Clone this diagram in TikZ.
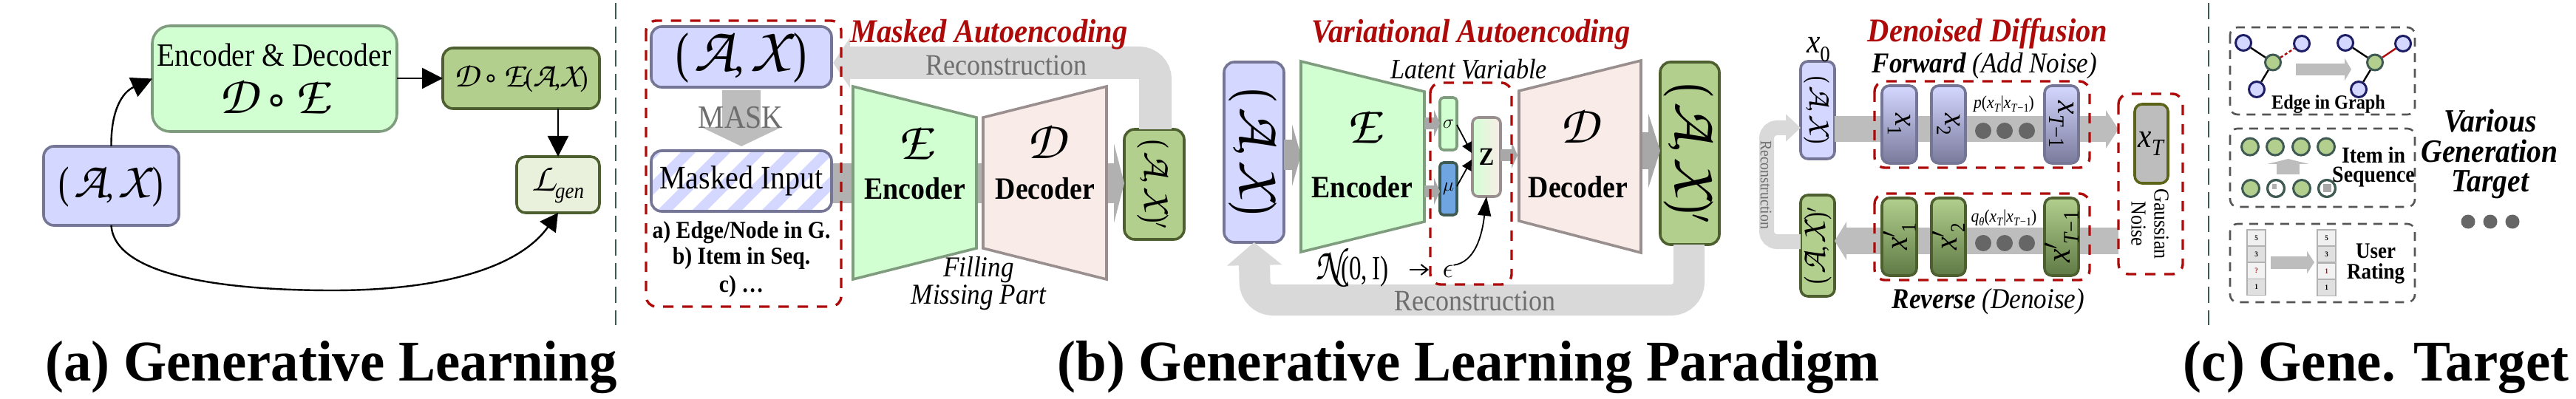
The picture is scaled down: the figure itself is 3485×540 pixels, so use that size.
\RequirePackage{fix-cm}
\documentclass[tikz,border=0pt]{standalone}
\usepackage{fontspec}
\usepackage{graphicx}
\setmainfont[FakeStretch=0.9]{Liberation Serif}
\newfontfamily\capfam[FakeStretch=0.96]{Liberation Serif}
\newfontfamily\djfam{DejaVu Sans}
\usetikzlibrary{arrows.meta,shapes.geometric,calc}
\definecolor{blueF}{HTML}{D4D7FF}
\definecolor{blueB}{HTML}{757595}
\definecolor{blueD}{HTML}{7A7A9C}
\definecolor{greenF}{HTML}{D2FFD2}
\definecolor{greenB}{HTML}{7F9C7F}
\definecolor{oliveF}{HTML}{B3CF8E}
\definecolor{oliveB}{HTML}{4D5F2F}
\definecolor{oliveD}{HTML}{5F7A45}
\definecolor{paleF}{HTML}{E9F1DC}
\definecolor{pinkF}{HTML}{F9ECE8}
\definecolor{pinkB}{HTML}{9A8F8F}
\definecolor{redD}{HTML}{AE0A0A}
\definecolor{bandL}{HTML}{D9D9D9}
\definecolor{bandM}{HTML}{BDBDBD}
\definecolor{bandD}{HTML}{A8A8A8}
\definecolor{lbl}{HTML}{6E6E6E}
\definecolor{dotc}{HTML}{666666}
\definecolor{sepc}{HTML}{3F5A52}
\definecolor{dashg}{HTML}{555555}
\definecolor{muF}{HTML}{6FA5E0}
\newcommand\fs[1]{\fontsize{#1}{#1}\selectfont}
\newcommand\calf[1]{\scalebox{1.35}{\usefont{OT1}{pzc}{m}{it}#1}}
\newcommand\calb[1]{\scalebox{1.45}{\usefont{OT1}{pzc}{m}{it}#1}}
\newcommand\cirk{{\djfam\fontsize{.75em}{1em}∘}}
\newcommand\rotd[1]{\rotatebox[origin=c]{-90}{#1}}
\newcommand\rotu[1]{\rotatebox[origin=c]{90}{#1}}
\newcommand\AX{{\scalebox{1}[1.25]{(}}\kern.12em\calb{A},\,\calb{X}\kern.12em{\scalebox{1}[1.25]{)}}}
\newcommand\ity[1]{\textit{#1}}
\newcommand\bx[7]{\node (#1) [#2, minimum width={#5-#3}, minimum height={#6-#4}] at ({(#3+#5)/2},{(#4+#6)/2}) {#7};}
\tikzset{
 base box/.style={rounded corners=#1, inner sep=0pt, outer sep=0pt, line width=3.6pt, align=center},
 bluebox/.style={base box=14pt, draw=blueB, fill=blueF},
 greenbox/.style={base box=24pt, draw=greenB, fill=greenF},
 olivebox/.style={base box=14pt, draw=oliveB, fill=oliveF},
 palebox/.style={base box=12pt, draw=oliveB, fill=paleF},
 gradblue/.style={base box=10pt, draw=blueB, top color=blueF, bottom color=blueD},
 gradolive/.style={base box=10pt, draw=oliveB, top color=oliveF, bottom color=oliveD},
 txt/.style={inner sep=0pt, outer sep=0pt, align=center},
 arr/.style={draw=black, line width=2.4pt, -{Triangle[length=28pt,width=28pt]}},
 thin arr/.style={draw=black, line width=1.8pt, -{Triangle[length=14pt,width=14pt]}},
 reddash/.style={draw=redD, line width=3.4pt, rounded corners=14pt, dash pattern=on 14pt off 12pt},
 greydash/.style={draw=dashg, line width=2.6pt, rounded corners=10pt, dash pattern=on 12pt off 9pt},
 sepline/.style={draw=sepc, line width=2.6pt, dash pattern=on 22pt off 10pt},
 bandlight/.style={draw=bandL, rounded corners=22pt},
 trapgreen/.style={draw=greenB, fill=greenF, line width=3.6pt, line join=miter},
 trappink/.style={draw=pinkB, fill=pinkF, line width=3.6pt, line join=miter},
 gnode/.style={circle, inner sep=0pt, minimum size=21pt, line width=3pt, draw=#1},
 cell/.style={draw=black!30, line width=1.6pt, minimum width=25pt, minimum height=22pt, inner sep=0pt, font=\bfseries\fs{10}},
 dotn/.style={fill=dotc},
}
\begin{document}
\begin{tikzpicture}[x=1pt,y=-1pt]
\useasboundingbox (0,0) rectangle (3485,540);

%% ---------- (a) ----------
\bx{ax}{bluebox}{59}{198}{242}{305}{\fs{48}\AX}
\bx{ed}{greenbox}{206}{35}{537}{178}{}
\node (edt) [txt] at (371,74) {\fs{44}Encoder \& Decoder};
\node (eds) [txt] at (371,131) {\fs{54}\calf{D}\,\cirk\,\calf{E}};
\bx{de}{olivebox}{599}{65}{811}{147}{\fs{35}\calf{D}\,\cirk\,\calf{E}(\calf{A},\calf{X})}
\bx{lg}{palebox}{699}{212}{811}{288}{\fs{40}\calf{L}\raisebox{-.25em}{\fs{30}\textit{gen}}}
\draw[arr] (ax.north) .. controls (150,150) and (165,125) .. (ed.west);
\draw[arr] (ed.east |- de.west) -- (de.west);
\draw[arr] (de.south -| lg.south) -- (lg.north);
\draw[arr, -{Triangle[length=24pt,width=26pt]}] (ax.south) .. controls (155,375) and (310,393) .. (450,393) .. controls (590,393) and (700,365) .. (lg.south);
\node (capa) [txt, anchor=base] at (448,515) {\capfam\bfseries\fs{78}(a) Generative Learning};
\coordinate (s1a) at (833,4); \coordinate (s1b) at (833,440);
\draw[sepline] (s1a) -- (s1b);

%% ---------- (b) masked autoencoding ----------
\coordinate (aer) at (1127,85);
\bx{aeout}{olivebox}{1521}{175}{1602}{324}{\rotd{\fs{38}\AX$'$}}
\draw[bandlight, line width=44pt, -{Triangle[length=23pt,width=67pt,sharp]}] ([xshift=1.5pt]aeout.north) |- (aer);
\node (aerec) [txt, text=lbl] at (1361,88) {\fs{40}Reconstruction};
\bx{mi}{base box=14pt, draw=none, fill=white}{881}{204}{1125}{286}{}
\begin{scope}
\clip[rounded corners=14pt] (881,204) rectangle (1125,286);
\foreach \hx in {790,837,...,1120}{
 \fill[blueF] (\hx,290) -- (\hx+20,290) -- (\hx+106,204) -- (\hx+86,204) -- cycle;
}
\end{scope}
\coordinate (mask0) at (1003,122); \coordinate (mask1) at (1003,198);
\draw[draw=bandM, line width=52pt, -{Triangle[length=26pt,width=108pt,sharp]}] (mask0) -- (mask1);
\node (masktxt) [txt, text=lbl] at (1002,159) {\fs{44}MASK};
\coordinate (aeflow) at (1154,248);
\draw[draw=bandD!90!white, line width=53pt, -{Triangle[length=14pt,width=107pt,sharp]}] (1125,248) -- (aeout.west |- aeflow);
\draw[trapgreen] (1154,117) -- (1321,159) -- (1321,336) -- (1154,378) -- cycle;
\draw[trappink] (1330,159) -- (1497,117) -- (1497,378) -- (1330,336) -- cycle;
\bx{aeax}{bluebox}{881}{36}{1125}{118}{\fs{60}\AX}
\bx{mib}{base box=14pt, fill=none, draw=blueB}{881}{204}{1125}{286}{\fs{44.5}Masked Input}
\draw[reddash] (874,28) rectangle (1138,415);
\node (l1) [txt] at (1003,315) {\bfseries\fs{33}a) Edge/Node in G.};
\node (l2) [txt] at (1003,350) {\bfseries\fs{33}b) Item in Seq.};
\node (l3) [txt] at (1003,388) {\bfseries\fs{33}c) …};
\node (aeE) [txt] at (1238,193) {\fs{54}\calf{E}};
\node (aeD) [txt] at (1415,192) {\fs{54}\calf{D}};
\node (aeEn) [txt] at (1238,255) {\bfseries\fs{42}Encoder};
\node (aeDe) [txt] at (1414,255) {\bfseries\fs{42}Decoder};
\node (fil) [txt] at (1324,365) {\itshape\fs{39}Filling};
\node (mis) [txt] at (1324,403) {\itshape\fs{39}Missing Part};
\node (t1) [txt, text=redD] at (1338,47) {\bfseries\itshape\fs{45}Masked Autoencoding};

%% ---------- (b) variational autoencoding ----------
\bx{vout}{olivebox}{2246}{84}{2326}{331}{\rotd{\fs{60}\AX$'$}}
\bx{vax}{bluebox}{1656}{84}{1737}{328}{\rotd{\fs{58}\AX}}
\coordinate (vrec) at (1698,329);
\coordinate (vrec0) at (1698,406);
\draw[bandlight, line width=42pt, rounded corners=24pt, -{Triangle[length=31pt,width=73pt,sharp]}] ([xshift=-1pt]vout.south) |- (vrec0) -- (vax.south);
\node (vrect) [txt, text=lbl] at (1995,407) {\fs{40}Reconstruction};
\coordinate (vf) at (1760,210);
\draw[draw=bandD, line width=41pt, -{Triangle[length=12pt,width=83pt,sharp]}] (vax.east |- vf) -- (vf);
\draw[trapgreen] (1760,83) -- (1927,124) -- (1927,300) -- (1760,341) -- cycle;
\coordinate (vo) at (2246,204);
\draw[draw=bandD, line width=50pt, -{Triangle[length=16pt,width=100pt,sharp]}] (2215,204) -- (vo);
\draw[trappink] (2055,123) -- (2220,82) -- (2220,342) -- (2055,299) -- cycle;
\node (vE) [txt] at (1845,171) {\fs{54}\calf{E}};
\node (vD) [txt] at (2136,171) {\fs{54}\calf{D}};
\node (vEn) [txt] at (1843,253) {\bfseries\fs{42}Encoder};
\node (vDe) [txt] at (2135,253) {\bfseries\fs{42}Decoder};
\bx{vs}{base box=5pt, draw=greenB, fill=greenF}{1948}{132}{1971}{203}{\fs{26}$\sigma$}
\bx{vm}{base box=5pt, draw=sepc, fill=muF}{1948}{220}{1971}{291}{\fs{26}$\mu$}
\bx{vz}{base box=8pt, draw=pinkB, left color=greenF, right color=pinkF}{1992}{159}{2030}{266}{\bfseries\fs{34}Z}
\coordinate (g1a) at (1927,167); \coordinate (g2a) at (1927,259);
\draw[draw=bandD, line width=16pt, -{Triangle[length=8pt,width=36pt,sharp]}] (g1a) -- (vs.west |- g1a);
\draw[draw=bandD, line width=16pt, -{Triangle[length=8pt,width=36pt,sharp]}] (g2a) -- (vm.west |- g2a);
\coordinate (g3b) at (2053,210);
\draw[draw=bandD, line width=16pt, -{Triangle[length=8pt,width=36pt,sharp]}] (vz.east |- g3b) -- (g3b);
\coordinate (sz) at (1991,207); \coordinate (mz) at (1991,216);
\draw[thin arr] ([yshift=34pt]vs.south east) -- (sz);
\draw[thin arr] ([yshift=39pt]vm.south east) -- (mz);
\draw[reddash] (1935,112) rectangle (2045,385);
\node (lat) [txt] at (1987,94) {\itshape\fs{38}Latent Variable};
\node (nn) [txt] at (1829,362) {\scalebox{.8}[1]{\fs{46}\calf{N}(0,\,I)}};
\node (eps) [txt] at (1959,367) {\fs{38}$\epsilon$};
\coordinate (ea) at (1907,365); \coordinate (eb) at (1933,365);
\draw[draw=black, line width=2pt, -{Straight Barb[length=9pt,width=14pt]}] (ea) -- (eb);
\draw[thin arr, -{Triangle[length=26pt,width=18pt]}] (eps.north east) .. controls (1995,355) and (2005,320) .. (vz.south);
\node (t2) [txt, text=redD] at (1990,47) {\bfseries\itshape\fs{45}Variational Autoencoding};

%% ---------- (b) denoised diffusion ----------
\bx{x0}{bluebox, rounded corners=10pt}{2436}{83}{2482}{215}{\rotd{\fs{31}\AX}}
\bx{xr}{olivebox, rounded corners=10pt}{2436}{264}{2482}{401}{\rotu{\fs{33}\AX$'$}}
\node (x0l) [txt] at (2460,67) {\fs{46}\ity{x}\raisebox{-.25em}{\fs{30}0}};
\coordinate (rc1) at (2390,327); \coordinate (rc2) at (2390,173);
\draw[bandlight, line width=20pt, rounded corners=14pt, -{Triangle[length=20pt,width=36pt,sharp]}] (xr.west |- rc1) -- (rc1) -- (rc2) -- (x0.west |- rc2);
\node (rct) [txt, text=lbl] at (2389,250) {\rotd{\fs{22}Reconstruction}};
% bands
\coordinate (ff) at (2866,175);
\draw[draw=bandM, line width=35pt, -{Triangle[length=17pt,width=51pt,sharp]}] (x0.east |- ff) -- (ff);
\coordinate (rr) at (2866,326);
\draw[draw=bandM, line width=36pt, -{Triangle[length=16pt,width=51pt,sharp]}] (rr) -- (xr.east |- rr);
\bx{x1}{gradblue}{2546}{116}{2593}{221}{\rotd{\fs{44}\ity{x}\raisebox{-.25em}{\fs{28}1}}}
\bx{x2}{gradblue}{2613}{116}{2659}{221}{\rotd{\fs{44}\ity{x}\raisebox{-.25em}{\fs{28}2}}}
\bx{x3}{gradblue}{2766}{116}{2812}{221}{\rotd{\fs{46}\ity{x}\raisebox{-.25em}{\fs{30}\ity{T}−1}}}
\bx{y1}{gradolive}{2546}{268}{2593}{373}{\rotu{\fs{44}\ity{x}$'$\raisebox{-.25em}{\fs{28}\kern-.1em 1}}}
\bx{y2}{gradolive}{2613}{268}{2659}{373}{\rotu{\fs{44}\ity{x}$'$\raisebox{-.25em}{\fs{28}\kern-.1em 2}}}
\bx{y3}{gradolive}{2766}{268}{2812}{373}{\rotu{\fs{46}\ity{x}$'$\raisebox{-.25em}{\fs{30}\kern-.1em\ity{T}−1}}}
\foreach \hx in {2683,2712,2742}{
 \fill[dotn] (\hx,177) circle (11pt);
 \fill[dotn] (\hx,329) circle (11pt);
}
\node (pf) [txt] at (2711,141) {\fs{24}\ity{p}(\ity{x}\raisebox{-.2em}{\fs{16}\ity{T}}|\ity{x}\raisebox{-.2em}{\fs{16}\ity{T}−1})};
\node (qf) [txt] at (2711,295) {\fs{24}\ity{q}\raisebox{-.2em}{\fs{16}\ity{θ}}(\ity{x}\raisebox{-.2em}{\fs{16}\ity{T}}|\ity{x}\raisebox{-.2em}{\fs{16}\ity{T}−1})};
\draw[reddash] (2536,110) rectangle (2827,227);
\draw[reddash] (2536,262) rectangle (2827,379);
\bx{xt}{base box=10pt, draw=oliveB!70!yellow!70!black, fill=bandM}{2888}{141}{2933}{248}{\fs{46}\ity{x}\raisebox{-.25em}{\fs{32}\ity{T}}}
\draw[reddash] (2866,127) rectangle (2953,371);
\node (gs1) [txt] at (2924,303) {\rotd{\fs{29}Gaussian}};
\node (gs2) [txt] at (2893,303) {\rotd{\fs{29}Noise}};
\node (t3) [txt, text=redD] at (2689,45) {\bfseries\itshape\fs{45}Denoised Diffusion};
\node (fw) [txt] at (2685,89) {\itshape\fs{39}\textbf{Forward} (Add Noise)};
\node (rv) [txt] at (2690,408) {\itshape\fs{39}\textbf{Reverse} (Denoise)};
\node (capb) [txt, anchor=base] at (1987,515) {\capfam\bfseries\fs{78}(b) Generative Learning Paradigm};
\coordinate (s2a) at (2988,4); \coordinate (s2b) at (2988,440);
\draw[sepline] (s2a) -- (s2b);

%% ---------- (c) ----------
\draw[greydash] (3017,37) rectangle (3267,155);
\draw[greydash] (3017,174) rectangle (3267,280);
\draw[greydash] (3017,303) rectangle (3267,409);
% graph
\node (a1) [gnode=blueB!50!blue!50!black, fill=blueF] at (3035,58) {};
\node (a2) [gnode=blueB!50!blue!50!black, fill=blueF] at (3114,59) {};
\node (a3) [gnode=blueB!50!blue!50!black, fill=blueF] at (3053,121) {};
\node (ac) [gnode=sepc, fill=oliveF] at (3075,84.5) {};
\node (b1) [gnode=blueB!50!blue!50!black, fill=blueF] at (3173,58) {};
\node (b2) [gnode=blueB!50!blue!50!black, fill=blueF] at (3251,59) {};
\node (b3) [gnode=blueB!50!blue!50!black, fill=blueF] at (3191,121) {};
\node (bc) [gnode=sepc, fill=oliveF] at (3213,84.5) {};
\draw[line width=2.4pt] (a1) -- (ac);
\draw[line width=2.4pt] (a3) -- (ac);
\draw[redD, line width=2.4pt, dash pattern=on 4pt off 3pt] (ac) -- (a2);
\draw[line width=2.4pt] (b1) -- (bc);
\draw[line width=2.4pt] (b3) -- (bc);
\draw[redD, line width=2.4pt] (bc) -- (b2);
\coordinate (ga) at (3106,94); \coordinate (gb) at (3181,94);
\draw[draw=bandM, line width=16pt, -{Triangle[length=9pt,width=30pt,sharp]}] (ga) -- (gb);
\node (eg) [txt] at (3150,141) {\bfseries\fs{27}Edge in Graph};
% sequence
\foreach \hx/\nm in {3044/c1,3078/c2,3113/c3,3147/c4}{
 \node (\nm) [gnode=sepc, fill=oliveF, minimum size=23pt] at (\hx,198.6) {};
}
\node (d1) [gnode=sepc, fill=oliveF, minimum size=23pt] at (3045,255) {};
\node (d2b) [gnode=sepc, fill=white, minimum size=23pt] at (3079,255) {};
\fill[bandM!80!gray] (3074,249) rectangle (3080,256);
\node (d2) [gnode=sepc, minimum size=23pt] at (3079,255) {};
\node (d3) [gnode=sepc, fill=oliveF, minimum size=23pt] at (3114,255) {};
\node (d4b) [gnode=sepc, fill=white, minimum size=23pt] at (3148,255) {};
\fill[bandD] (3143,249) rectangle (3154,260);
\node (d4) [gnode=sepc, minimum size=23pt] at (3148,255) {};
\coordinate (sa) at (3095.5,236); \coordinate (sb) at (3095.5,215);
\draw[draw=bandM, line width=31pt, -{Triangle[length=7pt,width=56pt,sharp]}] (sa) -- (sb);
\node (it1) [txt] at (3211,210) {\bfseries\fs{31}Item in};
\node (it2) [txt] at (3211,240) {\bfseries\fs{31}Sequence};
% rating
\node (m1) [cell, fill=black!6] at (3052.5,322) {5};
\node (m2) [cell, fill=black!12] at (3052.5,344) {3};
\node (m3) [cell, fill=black!5, text=redD] at (3052.5,366.5) {?};
\node (m4) [cell, fill=black!12] at (3052.5,388.5) {1};
\node (n1) [cell, fill=black!6] at (3147.5,322) {5};
\node (n2) [cell, fill=black!12] at (3147.5,344) {3};
\node (n3) [cell, fill=black!5, text=redD] at (3147.5,367) {1};
\node (n4) [cell, fill=black!12] at (3147.5,389.5) {1};
\coordinate (ra) at (3072,355); \coordinate (rb) at (3131,355);
\draw[draw=bandM, line width=17pt, -{Triangle[length=10pt,width=30pt,sharp]}] (ra) -- (rb);
\node (u1) [txt] at (3214,340) {\bfseries\fs{30}User};
\node (u2) [txt] at (3214,370) {\bfseries\fs{30}Rating};
\node (v1) [txt] at (3369,164) {\bfseries\itshape\fs{44}Various};
\node (v2) [txt] at (3368,204) {\bfseries\itshape\fs{44}Generation};
\node (v3) [txt] at (3369,250) {\bfseries\itshape\fs{44}Target};
\foreach \hx in {3339,3369,3399}{ \fill[dotn] (\hx,300) circle (9.5pt); }
\node (capc) [txt, anchor=base] at (3214.5,515) {\capfam\bfseries\fs{78}(c) Gene. Target};
\end{tikzpicture}
\end{document}
